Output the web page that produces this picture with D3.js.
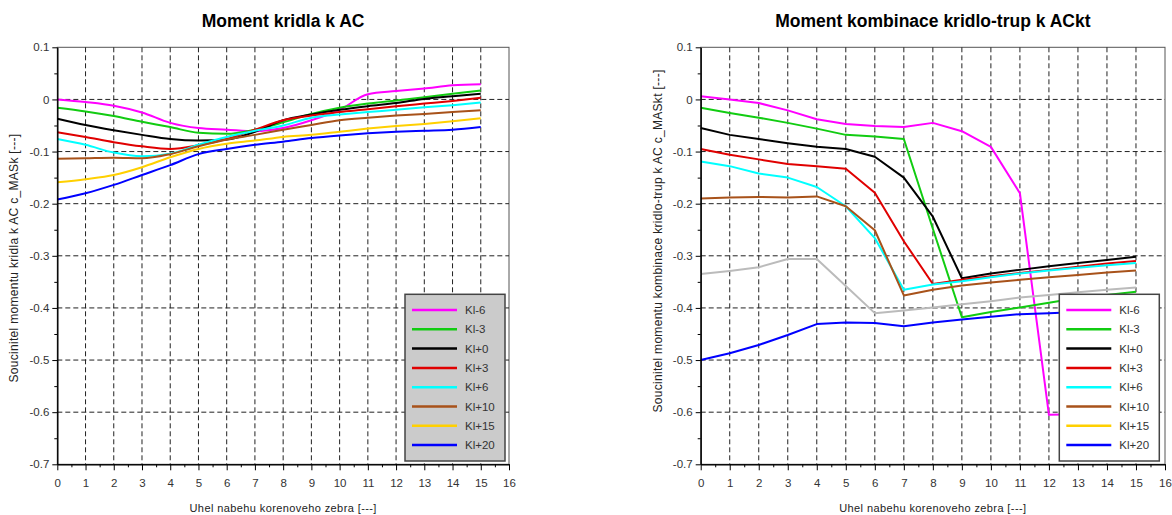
<!DOCTYPE html>
<html>
<head>
<meta charset="utf-8">
<script src="https://cdn.jsdelivr.net/npm/d3@7"></script>
<style>
  body { margin: 0; background: #fff; }
  svg { display: block; font-family: "Liberation Sans", Arial, sans-serif; }
</style>
</head>
<body>
<div id="chart"></div>
<script>
// x values (uhel nabehu) and tick labels
let angles = [0, 1, 2, 3, 4, 5, 6, 7, 8, 9, 10, 11, 12, 13, 14, 15];
let xTicks = [0, 1, 2, 3, 4, 5, 6, 7, 8, 9, 10, 11, 12, 13, 14, 15, 16];
let yTicks = [0.1, 0, -0.1, -0.2, -0.3, -0.4, -0.5, -0.6, -0.7];
let seriesNames = ["Kl-6", "Kl-3", "Kl+0", "Kl+3", "Kl+6", "Kl+10", "Kl+15", "Kl+20"];

// left chart: moment kridla k AC
let wingKIm6  = [0.000, -0.005, -0.012, -0.025, -0.045, -0.055, -0.058, -0.061, -0.055, -0.040, -0.020, 0.010, 0.016, 0.021, 0.027, 0.029];
let wingKIm3  = [-0.016, -0.023, -0.032, -0.043, -0.053, -0.064, -0.066, -0.058, -0.044, -0.028, -0.016, -0.008, -0.002, 0.004, 0.011, 0.017];
let wingKI0   = [-0.037, -0.049, -0.059, -0.068, -0.076, -0.079, -0.077, -0.062, -0.040, -0.029, -0.020, -0.013, -0.007, 0.001, 0.006, 0.011];
let wingKI3   = [-0.063, -0.072, -0.082, -0.090, -0.095, -0.088, -0.076, -0.058, -0.040, -0.031, -0.024, -0.019, -0.013, -0.008, -0.003, 0.003];
let wingKI6   = [-0.076, -0.087, -0.102, -0.109, -0.104, -0.087, -0.072, -0.060, -0.050, -0.035, -0.029, -0.024, -0.020, -0.015, -0.011, -0.006];
let wingKI10  = [-0.114, -0.113, -0.112, -0.113, -0.105, -0.090, -0.077, -0.068, -0.058, -0.049, -0.040, -0.035, -0.031, -0.028, -0.024, -0.021];
let wingKI15  = [-0.159, -0.153, -0.145, -0.130, -0.111, -0.095, -0.085, -0.079, -0.072, -0.068, -0.062, -0.056, -0.051, -0.047, -0.042, -0.036];
let wingKI20  = [-0.192, -0.180, -0.164, -0.145, -0.126, -0.105, -0.095, -0.087, -0.081, -0.074, -0.069, -0.065, -0.062, -0.060, -0.058, -0.053];

// right chart: moment kombinace kridlo-trup k ACkt
let combKIm6  = [0.006, 0.000, -0.007, -0.021, -0.038, -0.047, -0.051, -0.053, -0.045, -0.061, -0.091, -0.180, -0.605, -0.604, -0.603, -0.602];
let combKIm3  = [-0.016, -0.026, -0.035, -0.045, -0.056, -0.068, -0.071, -0.076, -0.248, -0.418, -0.408, -0.399, -0.390, -0.381, -0.375, -0.369];
let combKI0   = [-0.055, -0.068, -0.076, -0.084, -0.091, -0.095, -0.110, -0.150, -0.225, -0.343, -0.334, -0.327, -0.320, -0.314, -0.308, -0.302];
let combKI3   = [-0.095, -0.106, -0.115, -0.124, -0.128, -0.133, -0.179, -0.272, -0.354, -0.346, -0.339, -0.333, -0.327, -0.321, -0.315, -0.310];
let combKI6   = [-0.119, -0.128, -0.142, -0.150, -0.168, -0.205, -0.266, -0.365, -0.355, -0.349, -0.341, -0.334, -0.328, -0.323, -0.318, -0.314];
let combKI10  = [-0.190, -0.188, -0.187, -0.188, -0.186, -0.205, -0.251, -0.376, -0.365, -0.357, -0.351, -0.346, -0.341, -0.337, -0.332, -0.328];
let combKI15  = [-0.335, -0.329, -0.322, -0.306, -0.306, -0.358, -0.410, -0.405, -0.399, -0.393, -0.387, -0.380, -0.375, -0.370, -0.365, -0.361];
let combKI20  = [-0.500, -0.487, -0.471, -0.452, -0.431, -0.428, -0.429, -0.435, -0.428, -0.422, -0.417, -0.412, -0.410, -0.408, -0.406, -0.404];

let colors = ["#ff00ff", "#11cc11", "#000000", "#e00000", "#00ffff", "#a8521a", "#ffd000", "#0000ff"];

let w = 1172, h = 515;
let svg = d3.select("#chart").append("svg").attr("width", w).attr("height", h);

function drawPanel(opt) {
    let x = d3.scaleLinear().domain([0, 16]).range([opt.left, opt.right]);
    let y = d3.scaleLinear().domain([-0.7, 0.1]).range([464.3, 47.3]);
    let g = svg.append("g");

    // plot frame
    g.append("rect")
        .attr("x", x(0)).attr("y", y(0.1))
        .attr("width", x(16) - x(0)).attr("height", y(-0.7) - y(0.1))
        .attr("fill", "#fff").attr("stroke", "#555").attr("stroke-width", 1);

    // dashed grid
    g.selectAll(".gx").data(xTicks.slice(1, -1)).enter().append("line")
        .attr("x1", d => x(d)).attr("x2", d => x(d))
        .attr("y1", y(0.1)).attr("y2", y(-0.7))
        .attr("stroke", "#222").attr("stroke-dasharray", "5,3");
    g.selectAll(".gy").data(yTicks.slice(1, -1)).enter().append("line")
        .attr("x1", x(0)).attr("x2", x(16))
        .attr("y1", d => y(d)).attr("y2", d => y(d))
        .attr("stroke", "#222").attr("stroke-dasharray", "5,3");

    // series lines
    let line = d3.line().x((d, i) => x(angles[i])).y(d => y(d)).curve(opt.curve);
    opt.series.forEach((s, i) => {
        g.append("path").datum(s)
            .attr("fill", "none")
            .attr("stroke", opt.lineColors[i])
            .attr("stroke-width", 2)
            .attr("stroke-linejoin", "round")
            .attr("d", line);
    });

    // axes with minor ticks
    let fmt = d => d === 0 ? "0" : d.toFixed(1);
    let halfX = xTicks.slice(0, -1).map(d => d + 0.5);
    let halfY = yTicks.slice(1).map(d => d + 0.05);

    g.append("g").attr("transform", "translate(0," + y(-0.7) + ")")
        .call(d3.axisBottom(x).tickValues(halfX).tickSize(3).tickSizeOuter(0).tickFormat(""));
    let xa = g.append("g").attr("transform", "translate(0," + y(-0.7) + ")")
        .call(d3.axisBottom(x).tickValues(xTicks).tickSize(6).tickSizeOuter(0).tickPadding(9));
    g.append("g").attr("transform", "translate(" + x(0) + ",0)")
        .call(d3.axisLeft(y).tickValues(halfY).tickSize(3).tickSizeOuter(0).tickFormat(""));
    let ya = g.append("g").attr("transform", "translate(" + x(0) + ",0)")
        .call(d3.axisLeft(y).tickValues(yTicks).tickSize(5).tickSizeOuter(0).tickPadding(3).tickFormat(fmt));
    g.selectAll(".domain").attr("stroke", "#000");
    g.selectAll(".tick line").attr("stroke", "#000");
    xa.selectAll("text").attr("font-size", "11.5px").attr("fill", "#333").attr("font-family", "Liberation Sans, Arial");
    ya.selectAll("text").attr("font-size", "11.5px").attr("fill", "#333").attr("font-family", "Liberation Sans, Arial");

    // title and axis labels
    svg.append("text")
        .attr("x", (x(0) + x(16)) / 2).attr("y", 27)
        .attr("text-anchor", "middle")
        .attr("font-size", "17.5px").attr("font-weight", "bold")
        .text(opt.title);
    svg.append("text")
        .attr("x", (x(0) + x(16)) / 2).attr("y", 512)
        .attr("text-anchor", "middle")
        .attr("font-size", "11px").attr("fill", "#222")
        .attr("letter-spacing", "0.4px")
        .text("Uhel nabehu korenoveho zebra [---]");
    svg.append("text")
        .attr("transform", "translate(" + (opt.left - 39) + "," + opt.yLabelMid + ") rotate(-90)")
        .attr("text-anchor", "middle")
        .attr("font-size", "12px").attr("fill", "#222")
        .attr("letter-spacing", "0.3px")
        .text(opt.yLabel);

    // legend
    let lg = svg.append("g");
    lg.append("rect")
        .attr("x", opt.legendX).attr("y", 294.3)
        .attr("width", 100).attr("height", 166.7)
        .attr("fill", opt.legendFill).attr("stroke", "#444").attr("stroke-width", 1.5);
    seriesNames.forEach((name, i) => {
        let ry = 310 + i * 19.3;
        lg.append("line")
            .attr("x1", opt.legendX + 7).attr("x2", opt.legendX + 52)
            .attr("y1", ry).attr("y2", ry)
            .attr("stroke", colors[i]).attr("stroke-width", 2.5);
        lg.append("text")
            .attr("x", opt.legendX + 60).attr("y", ry).attr("dy", "0.35em")
            .attr("font-size", "11.5px").attr("fill", "#333")
            .text(name);
    });
}

drawPanel({
    left: 57.3, right: 509,
    title: "Moment kridla k AC",
    yLabel: "Soucinitel momentu kridla k AC c_MASk [---]",
    yLabelMid: 258,
    series: [wingKIm6, wingKIm3, wingKI0, wingKI3, wingKI6, wingKI10, wingKI15, wingKI20],
    lineColors: colors,
    curve: d3.curveMonotoneX,
    legendX: 405, legendFill: "#cbcbcb"
});

drawPanel({
    left: 700.7, right: 1165,
    title: "Moment kombinace kridlo-trup k ACkt",
    yLabel: "Soucinitel momentu kombinace kridlo-trup k AC c_MASkt [---]",
    yLabelMid: 241,
    series: [combKIm6, combKIm3, combKI0, combKI3, combKI6, combKI10, combKI15, combKI20],
    lineColors: ["#ff00ff", "#11cc11", "#000000", "#e00000", "#00ffff", "#a8521a", "#bbbbbb", "#0000ff"],
    curve: d3.curveLinear,
    legendX: 1059.3, legendFill: "#ffffff"
});
</script>
</body>
</html>
